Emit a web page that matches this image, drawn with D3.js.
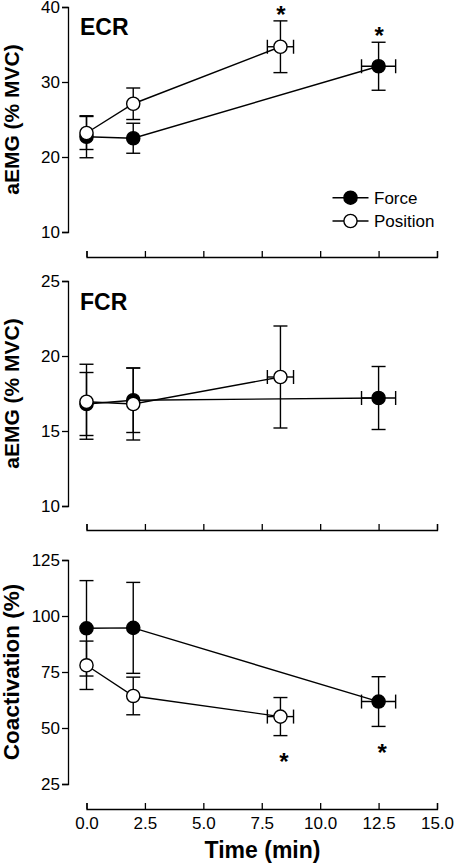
<!DOCTYPE html>
<html><head><meta charset="utf-8">
<script src="https://cdn.jsdelivr.net/npm/d3@7"></script>
<style>
html,body{margin:0;padding:0;background:#fff;}
svg{display:block;font-family:"Liberation Sans",Arial,Helvetica,sans-serif;}
</style></head><body>
<svg id="c" width="455" height="865"></svg>
<script>
// ---- data ----
const forceTime = [0, 2, 12.5];
const forceTimeErr = [0, 0, 0.73];
const positionTime = [0, 2, 8.3];
const positionTimeErr = [0, 0, 0.56];

const ecrForce = [22.7, 22.5, 32.1];
const ecrForceErr = [2.8, 2.0, 3.2];
const ecrPosition = [23.2, 27.1, 34.7];
const ecrPositionErr = [2.2, 2.1, 3.45];

const fcrForce = [16.8, 17.05, 17.2];
const fcrForceErr = [2.1, 2.15, 2.1];
const fcrPosition = [16.95, 16.8, 18.6];
const fcrPositionErr = [2.5, 2.4, 3.4];

const coForce = [94.5, 94.7, 61.8];
const coForceErr = [21.3, 20.3, 11.1];
const coPosition = [78.0, 64.3, 55.1];
const coPositionErr = [10.8, 8.4, 8.5];

const xTicks = [0, 2.5, 5, 7.5, 10, 12.5, 15];
const ecrTicks = [10, 20, 30, 40];
const fcrTicks = [10, 15, 20, 25];
const coTicks = [25, 50, 75, 100, 125];
const seriesNames = ["Force", "Position"];

// ---- drawing ----
const svg = d3.select("#c");
const x = d3.scaleLinear().domain([0, 15]).range([86.5, 437]);
const axisX = 68;
const TICKFS = 17;

const panels = [
  {label:"ECR", ylab:"aEMG (% MVC)", ylabFs:21, domain:[10,40], range:[232,7], ticks:ecrTicks, xAxisY:257,
   force:ecrForce, forceErr:ecrForceErr, pos:ecrPosition, posErr:ecrPositionErr,
   stars:[{s:"pos", i:2, dir:"up"}, {s:"force", i:2, dir:"up"}], legend:true, titleY:35, xlabels:false},
  {label:"FCR", ylab:"aEMG (% MVC)", ylabFs:21, domain:[10,25], range:[506,281], ticks:fcrTicks, xAxisY:530,
   force:fcrForce, forceErr:fcrForceErr, pos:fcrPosition, posErr:fcrPositionErr,
   stars:[], legend:false, titleY:309.5, xlabels:false},
  {label:null, ylab:"Coactivation (%)", ylabFs:22.5, domain:[25,125], range:[784,560], ticks:coTicks, xAxisY:809,
   force:coForce, forceErr:coForceErr, pos:coPosition, posErr:coPositionErr,
   stars:[{s:"pos", i:2, dir:"down"}, {s:"force", i:2, dir:"down"}], legend:false, xlabels:true}
];

const R = 6.6, SW = 1.4, CAP = 7;

panels.forEach(p => {
  const y = d3.scaleLinear().domain(p.domain).range(p.range);
  const g = svg.append("g");

  // y axis
  const ya = g.append("g").attr("transform", `translate(${axisX},0)`)
    .call(d3.axisLeft(y).tickValues(p.ticks).tickSize(6).tickPadding(2).tickFormat(d3.format("d")));
  ya.selectAll("path,line").attr("stroke", "#000").attr("stroke-width", 1.3);
  ya.selectAll("text").attr("font-size", TICKFS).attr("fill", "#000").attr("font-family", "Liberation Sans, Arial, sans-serif");

  // x axis (detached, ticks up)
  const xa = g.append("g").attr("transform", `translate(0,${p.xAxisY})`)
    .call(d3.axisBottom(x).tickValues(xTicks).tickSizeInner(-6).tickSizeOuter(-6).tickPadding(8)
      .tickFormat(p.xlabels ? d3.format(".1f") : () => ""));
  xa.selectAll("path,line").attr("stroke", "#000").attr("stroke-width", 1.3);
  xa.selectAll("text").attr("font-size", TICKFS).attr("fill", "#000").attr("font-family", "Liberation Sans, Arial, sans-serif");

  // y label
  const yc = (p.range[0] + p.range[1]) / 2;
  g.append("text").attr("transform", `translate(18.5,${yc}) rotate(-90)`)
    .attr("text-anchor", "middle").attr("font-weight", "bold").attr("font-size", p.ylabFs).text(p.ylab);

  if (p.label) g.append("text").attr("x", 80).attr("y", p.titleY).attr("font-weight", "bold")
    .attr("font-size", 23).text(p.label);

  const series = [
    {key:"force", t:forceTime, te:forceTimeErr, v:p.force, e:p.forceErr, fill:"#000"},
    {key:"pos", t:positionTime, te:positionTimeErr, v:p.pos, e:p.posErr, fill:"#fff"}
  ];
  // lines
  series.forEach(s => {
    const pts = s.t.map((t, i) => [x(t), y(s.v[i])]);
    g.append("path").attr("d", d3.line()(pts)).attr("fill", "none").attr("stroke", "#000").attr("stroke-width", SW);
  });
  // error bars + markers
  series.forEach(s => {
    s.t.forEach((t, i) => {
      const cx = x(t), cy = y(s.v[i]);
      const y1 = y(s.v[i] + s.e[i]), y2 = y(s.v[i] - s.e[i]);
      const eb = g.append("g").attr("stroke", "#000").attr("stroke-width", SW);
      eb.append("line").attr("x1", cx).attr("x2", cx).attr("y1", y1).attr("y2", y2);
      eb.append("line").attr("x1", cx - CAP).attr("x2", cx + CAP).attr("y1", y1).attr("y2", y1);
      eb.append("line").attr("x1", cx - CAP).attr("x2", cx + CAP).attr("y1", y2).attr("y2", y2);
      if (s.te[i] > 0) {
        const x1 = x(t - s.te[i]), x2 = x(t + s.te[i]);
        eb.append("line").attr("x1", x1).attr("x2", x2).attr("y1", cy).attr("y2", cy);
        eb.append("line").attr("x1", x1).attr("x2", x1).attr("y1", cy - CAP).attr("y2", cy + CAP);
        eb.append("line").attr("x1", x2).attr("x2", x2).attr("y1", cy - CAP).attr("y2", cy + CAP);
      }
    });
    s.t.forEach((t, i) => {
      g.append("circle").attr("cx", x(t)).attr("cy", y(s.v[i])).attr("r", R)
        .attr("fill", s.fill).attr("stroke", "#000").attr("stroke-width", SW);
    });
  });
  // asterisks
  p.stars.forEach(st => {
    const s = series.find(d => d.key === st.s);
    const t = s.t[st.i], v = s.v[st.i], e = s.e[st.i];
    const fs = 24;
    let cyc;
    if (st.dir === "up") cyc = y(v + e) - 11.5;
    else cyc = y(v - e) + 21;
    const dx = st.dir === "up" ? 0.5 : 3.5;
    g.append("text").attr("x", x(t) + dx).attr("y", cyc + 0.56 * fs).attr("text-anchor", "middle")
      .attr("font-weight", "bold").attr("font-size", fs).text("*");
  });

  if (p.legend) {
    const lg = g.append("g");
    const ly = [197.7, 221];
    series.forEach((s, k) => {
      lg.append("line").attr("x1", 332.5).attr("x2", 368.5).attr("y1", ly[k]).attr("y2", ly[k])
        .attr("stroke", "#000").attr("stroke-width", SW);
      lg.append("circle").attr("cx", 350.5).attr("cy", ly[k]).attr("r", R).attr("fill", s.fill)
        .attr("stroke", "#000").attr("stroke-width", SW);
      lg.append("text").attr("x", 374).attr("y", ly[k] + 6).attr("font-size", 17).text(seriesNames[k]);
    });
  }
});

// x axis title
svg.append("text").attr("x", 262.5).attr("y", 858).attr("text-anchor", "middle")
  .attr("font-weight", "bold").attr("font-size", 23).text("Time (min)");
</script>
</body></html>
